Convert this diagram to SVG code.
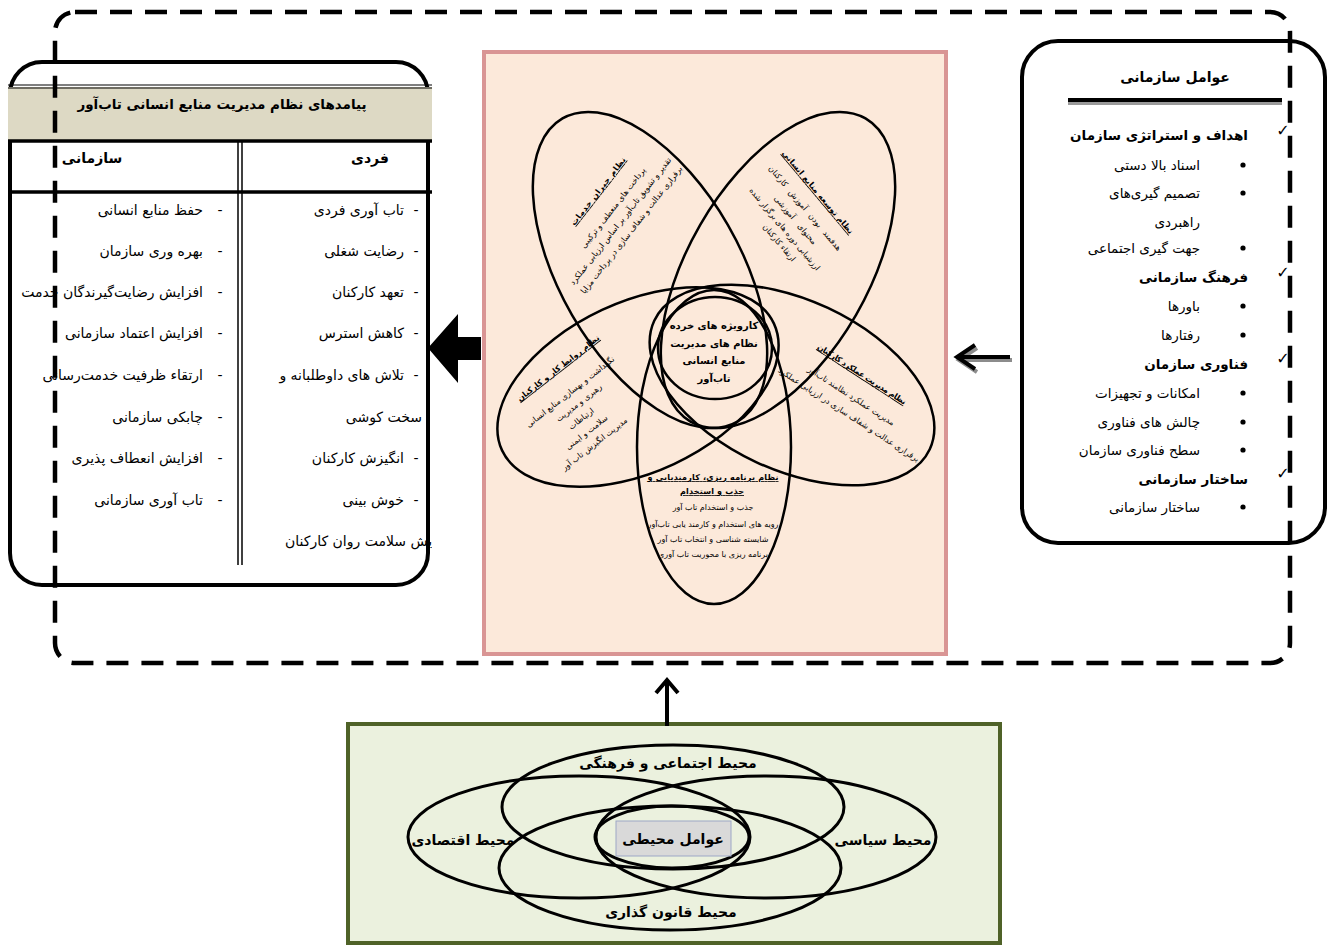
<svg xmlns="http://www.w3.org/2000/svg" width="1327" height="945" viewBox="0 0 1327 945">
<defs>
<style>
text{font-family:"DejaVu Sans",sans-serif;fill:#000}
.it{font-size:14px;text-anchor:end}
.dash{font-size:14px;text-anchor:middle}
.b{font-weight:bold}
.m{text-anchor:middle}
.s{font-size:8px;text-anchor:middle}
.st{font-size:8px;text-anchor:middle;font-weight:bold;text-decoration:underline}
.ell{fill:none;stroke:#000;stroke-width:2.5}
.bell{fill:none;stroke:#000;stroke-width:3}
.ri{font-size:13.5px;text-anchor:end}
.rh{font-size:13.5px;text-anchor:end;font-weight:bold}
</style>
<clipPath id="clipL"><rect x="0" y="0" width="432" height="945"/></clipPath>
</defs>
<rect width="1327" height="945" fill="#fff"/>

<g id="outcomes">
<rect x="10" y="62" width="418" height="523" rx="32" fill="#fff" stroke="#000" stroke-width="4"/>
<rect x="8" y="87" width="424" height="53" fill="#DDD9C4"/>
<line x1="8" y1="85" x2="432" y2="85" stroke="#000" stroke-width="1"/>
<line x1="8" y1="88" x2="432" y2="88" stroke="#000" stroke-width="1"/>
<line x1="8" y1="141" x2="432" y2="141" stroke="#000" stroke-width="3.5"/>
<line x1="8" y1="192" x2="432" y2="192" stroke="#000" stroke-width="3.5"/>
<line x1="238" y1="141" x2="238" y2="565" stroke="#000" stroke-width="1.5"/>
<line x1="242" y1="141" x2="242" y2="565" stroke="#000" stroke-width="1.5"/>
<text x="222" y="109" class="m b" font-size="13.5">پیامدهای نظام مدیریت منابع انسانی تاب‌آور</text>
<text x="92" y="163" class="m b" font-size="14">سازمانی</text>
<text x="370" y="163" class="m b" font-size="14">فردی</text>
<g clip-path="url(#clipL)">
<text x="404" y="215" class="it">تاب آوری فردی</text>
<text x="404" y="256" class="it">رضایت شغلی</text>
<text x="404" y="297" class="it">تعهد کارکنان</text>
<text x="404" y="338" class="it">کاهش استرس</text>
<text x="404" y="380" class="it">تلاش های داوطلبانه و</text>
<text x="422" y="422" class="it">سخت کوشی</text>
<text x="404" y="463" class="it">انگیزش کارکنان</text>
<text x="404" y="505" class="it">خوش بینی</text>
<text x="285" y="546" font-size="14">افزایش سلامت روان کارکنان</text>
<text x="416" y="215" class="dash">-</text>
<text x="416" y="256" class="dash">-</text>
<text x="416" y="297" class="dash">-</text>
<text x="416" y="338" class="dash">-</text>
<text x="416" y="380" class="dash">-</text>
<text x="416" y="463" class="dash">-</text>
<text x="416" y="505" class="dash">-</text>
</g>
<text x="203" y="215" class="it">حفظ منابع انسانی</text>
<text x="203" y="256" class="it">بهره وری سازمان</text>
<text x="203" y="297" class="it">افزایش رضایت‌گیرندگان خدمت</text>
<text x="203" y="338" class="it">افزایش اعتماد سازمانی</text>
<text x="203" y="380" class="it">ارتقاء ظرفیت خدمت‌رسانی</text>
<text x="203" y="422" class="it">چابکی سازمانی</text>
<text x="203" y="463" class="it">افزایش انعطاف پذیری</text>
<text x="203" y="505" class="it">تاب آوری سازمانی</text>
<text x="220" y="215" class="dash">-</text>
<text x="220" y="256" class="dash">-</text>
<text x="220" y="297" class="dash">-</text>
<text x="220" y="338" class="dash">-</text>
<text x="220" y="380" class="dash">-</text>
<text x="220" y="422" class="dash">-</text>
<text x="220" y="463" class="dash">-</text>
<text x="220" y="505" class="dash">-</text>
</g>

<g id="hrm-subsystems">
<rect x="484" y="52" width="462" height="602" fill="#FCE9DA" stroke="#D99594" stroke-width="4"/>
<ellipse class="ell" cx="650" cy="270" rx="175" ry="90" transform="rotate(60 650 270)"/>
<ellipse class="ell" cx="778" cy="270" rx="175" ry="90" transform="rotate(-60 778 270)"/>
<ellipse class="ell" cx="638" cy="387" rx="150" ry="85" transform="rotate(-25 638 387)"/>
<ellipse class="ell" cx="792" cy="385" rx="152" ry="85" transform="rotate(25 792 385)"/>
<ellipse class="ell" cx="714" cy="447" rx="77" ry="157"/>
<ellipse class="ell" cx="715" cy="348" rx="57" ry="51"/>
<g transform="translate(598 191) rotate(-52)">
<text class="st" x="0" y="3" textLength="84" lengthAdjust="spacing">نظام جبران خدمات</text>
<text class="s" x="-4" y="25">پرداخت های منعطف و ترکیبی</text>
<text class="s" x="-10" y="39">تقدیر و تشویق تاب‌آور بر اساس ارزیابی عملکرد</text>
<text class="s" x="-10" y="53">برقراری عدالت و شفاف سازی در پرداخت مزایا</text>
</g>
<g transform="translate(818 192) rotate(50)">
<text class="st" x="0" y="3" textLength="106" lengthAdjust="spacing">نظام توسعه منابع انسانی</text>
<text class="s" x="4" y="23" word-spacing="4">هدفمند بودن آموزش کارکنان</text>
<text class="s" x="7" y="38" word-spacing="6">محتوای آموزشی</text>
<text class="s" x="7" y="52">ارزشیابی دوره های برگزار شده</text>
<text class="s" x="14" y="65">ارتقاء کارکنان</text>
</g>
<g transform="translate(558 368) rotate(-38)">
<text class="st" x="0" y="3" textLength="102" lengthAdjust="spacing">نظام روابط کار و کارکنان</text>
<text class="s" x="-5" y="29">نگهداشت و بهسازی منابع انسانی</text>
<text class="s" x="-5" y="43">رهبری و مدیریت</text>
<text class="s" x="-13" y="57">ارتباطات</text>
<text class="s" x="-17" y="71">سلامت و ایمنی</text>
<text class="s" x="-18" y="85">مدیریت انگیزش تاب آور</text>
</g>
<g transform="translate(862 374) rotate(33)">
<text class="st" x="0" y="3" textLength="104" lengthAdjust="spacing">نظام مدیریت عملکرد کارکنان</text>
<text class="s" x="3" y="27">مدیریت عملکرد نظامند تاب‌آور</text>
<text class="s" x="11" y="44">برقراری عدالت و شفاف سازی در ارزیابی عملکرد</text>
</g>
<g>
<text class="st" x="713" y="480" textLength="131" lengthAdjust="spacing">نظام برنامه ریزی، کارمندیابی و</text>
<text class="st" x="712" y="494" textLength="64" lengthAdjust="spacing">جذب و استخدام</text>
<text class="s" x="713" y="510">جذب و استخدام تاب آور</text>
<text class="s" x="713" y="527">رویه های استخدام و کارمند یابی تاب‌آور</text>
<text class="s" x="713" y="542">شایسته شناسی و انتخاب تاب آور</text>
<text class="s" x="713" y="557">برنامه ریزی با محوریت تاب آوری</text>
</g>
<g font-size="10" font-weight="bold">
<text class="m" x="714" y="329">کارویژه های خرده</text>
<text class="m" x="714" y="347">نظام های مدیریت</text>
<text class="m" x="714" y="364">منابع انسانی</text>
<text class="m" x="714" y="382">تاب‌آور</text>
</g>
</g>

<g id="org-factors">
<rect x="1022" y="41" width="303" height="502" rx="36" fill="#fff" stroke="#000" stroke-width="4"/>
<text x="1175" y="82" class="m b" font-size="14">عوامل سازمانی</text>
<rect x="1068" y="102" width="214" height="3" fill="#9a9a9a"/>
<rect x="1068" y="98" width="214" height="4" fill="#000"/>
<text x="1248" y="140" class="rh">اهداف و استراتژی سازمان</text>
<text x="1200" y="170" class="ri">اسناد بالا دستی</text>
<text x="1200" y="198" class="ri">تصمیم گیری‌های</text>
<text x="1200" y="227" class="ri">راهبردی</text>
<text x="1200" y="253" class="ri">جهت گیری اجتماعی</text>
<text x="1248" y="282" class="rh">فرهنگ سازمانی</text>
<text x="1200" y="311" class="ri">باورها</text>
<text x="1200" y="340" class="ri">رفتارها</text>
<text x="1248" y="369" class="rh">فناوری سازمان</text>
<text x="1200" y="398" class="ri">امکانات و تجهیزات</text>
<text x="1200" y="427" class="ri">چالش های فناوری</text>
<text x="1200" y="455" class="ri">سطح فناوری سازمان</text>
<text x="1248" y="484" class="rh">ساختار سازمانی</text>
<text x="1200" y="512" class="ri">ساختار سازمانی</text>
<g font-size="16" text-anchor="middle">
<text x="1283" y="136">✓</text>
<text x="1283" y="278">✓</text>
<text x="1283" y="364">✓</text>
<text x="1283" y="479">✓</text>
</g>
<g fill="#000">
<circle cx="1243" cy="165" r="2.6"/>
<circle cx="1243" cy="193" r="2.6"/>
<circle cx="1243" cy="248" r="2.6"/>
<circle cx="1243" cy="306" r="2.6"/>
<circle cx="1243" cy="335" r="2.6"/>
<circle cx="1243" cy="393" r="2.6"/>
<circle cx="1243" cy="422" r="2.6"/>
<circle cx="1243" cy="450" r="2.6"/>
<circle cx="1243" cy="507" r="2.6"/>
</g>
</g>

<g id="env-factors">
<rect x="348" y="724" width="652" height="219" fill="#EBF1DE" stroke="#4F6228" stroke-width="4"/>
<ellipse class="bell" cx="673" cy="807" rx="171" ry="62"/>
<ellipse class="bell" cx="579" cy="837" rx="171" ry="61"/>
<ellipse class="bell" cx="766" cy="837" rx="170" ry="61"/>
<ellipse class="bell" cx="670" cy="868" rx="171" ry="62"/>
<ellipse class="bell" cx="672" cy="837" rx="77" ry="31"/>
<rect x="616" y="821" width="115" height="35" fill="#D9D9D9" stroke="#9DA7C6" stroke-width="1"/>
<text x="673" y="844" class="m b" font-size="14">عوامل محیطی</text>
<text x="668" y="768" class="m b" font-size="14">محیط اجتماعی و فرهنگی</text>
<text x="463" y="845" class="m b" font-size="14">محیط اقتصادی</text>
<text x="883" y="845" class="m b" font-size="14">محیط سیاسی</text>
<text x="671" y="917" class="m b" font-size="14">محیط قانون گذاری</text>
</g>

<g id="boundary">
<rect x="55" y="12" width="1235" height="651" rx="20" fill="none" stroke="#000" stroke-width="4.5" stroke-dasharray="22 13"/>
</g>

<g id="connectors">
<polygon points="428,348 458,314 458,337 481,337 481,360 458,360 458,383" fill="#000"/>
<g fill="none" stroke="#8c8c8c" stroke-width="4" transform="translate(2 3)">
<line x1="958" y1="357" x2="1010" y2="357"/>
<polyline points="975,345 957,357 975,369"/>
</g>
<g fill="none" stroke="#000" stroke-width="4">
<line x1="958" y1="357" x2="1010" y2="357"/>
<polyline points="975,345 957,357 975,369"/>
</g>
<g fill="none" stroke="#000" stroke-width="4">
<line x1="667" y1="726" x2="667" y2="681"/>
<polyline points="656,693 667,680 678,693"/>
</g>
</g>
</svg>
